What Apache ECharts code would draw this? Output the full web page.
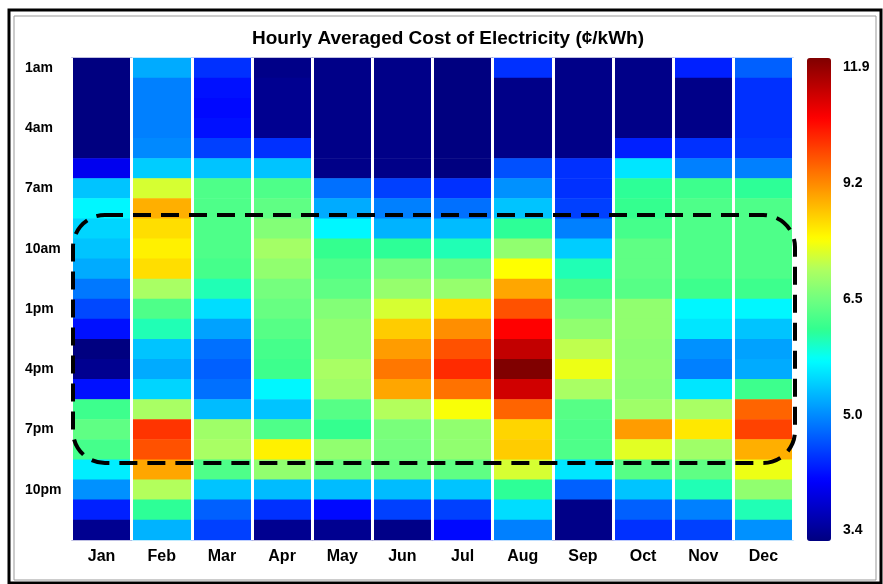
<!DOCTYPE html>
<html>
<head>
<meta charset="utf-8">
<title>Hourly Averaged Cost of Electricity</title>
<script src="https://cdn.jsdelivr.net/npm/echarts@6/dist/echarts.min.js"></script>
<style>
  html, body { margin: 0; padding: 0; background: #fff; }
  #chart { width: 883px; height: 584px; }
</style>
</head>
<body>
<div id="chart"></div>
<script>
// months along x, hours down y
const months = ['Jan', 'Feb', 'Mar', 'Apr', 'May', 'Jun', 'Jul', 'Aug', 'Sep', 'Oct', 'Nov', 'Dec'];
const hours = ['1am', '2am', '3am', '4am', '5am', '6am', '7am', '8am', '9am', '10am', '11am', '12pm',
  '1pm', '2pm', '3pm', '4pm', '5pm', '6pm', '7pm', '8pm', '9pm', '10pm', '11pm', '12am'];

// colour bar ticks (evenly spaced on the bar)
const barTicks = [3.4, 5.0, 6.5, 9.2, 11.9];

// cost in cents/kWh, one value per hour (1am .. 12am)
const jan = [3.4, 3.4, 3.4, 3.4, 3.4, 4.1, 5.4, 5.7, 5.5, 5.4, 5.25, 4.95, 4.65, 4.3, 3.4, 3.5, 4.3, 6.2, 6.4, 6.25, 5.65, 5.1, 4.4, 3.5];
const feb = [5.25, 5.0, 5.0, 5.0, 5.05, 5.45, 7.5, 8.7, 8.2, 8.0, 8.2, 7.1, 6.3, 6.0, 5.4, 5.25, 5.5, 7.1, 10.0, 9.7, 8.8, 7.2, 6.1, 5.3];
const mar = [4.5, 4.3, 4.25, 4.3, 4.6, 5.4, 6.3, 6.3, 6.3, 6.3, 6.25, 6.0, 5.55, 5.2, 4.9, 4.8, 4.9, 5.35, 7.0, 7.1, 6.3, 5.4, 4.8, 4.6];
const apr = [3.45, 3.5, 3.5, 3.5, 4.5, 5.4, 6.3, 6.4, 6.7, 7.05, 6.85, 6.55, 6.45, 6.35, 6.25, 6.2, 5.7, 5.4, 6.3, 8.0, 6.85, 5.35, 4.5, 3.5];
const may = [3.45, 3.45, 3.45, 3.45, 3.45, 3.45, 4.9, 5.25, 5.7, 6.15, 6.3, 6.4, 6.7, 6.85, 6.85, 7.1, 7.0, 6.35, 6.15, 6.85, 6.45, 5.35, 4.25, 3.5];
const jun = [3.45, 3.45, 3.45, 3.45, 3.45, 3.45, 4.6, 5.0, 5.3, 6.1, 6.55, 6.9, 7.5, 8.4, 8.9, 9.3, 8.8, 7.2, 6.6, 6.55, 6.45, 5.35, 4.6, 3.45];
const jul = [3.4, 3.4, 3.4, 3.4, 3.4, 3.4, 4.5, 4.9, 5.35, 6.0, 6.45, 6.9, 8.2, 9.05, 9.7, 10.1, 9.35, 7.8, 6.85, 6.85, 6.4, 5.4, 4.6, 4.25];
const aug = [4.5, 3.45, 3.45, 3.45, 3.45, 4.7, 5.1, 5.4, 6.1, 6.85, 7.85, 8.8, 9.7, 10.55, 11.2, 11.9, 11.05, 9.5, 8.3, 8.4, 7.5, 6.1, 5.55, 5.0];
const sep = [3.45, 3.45, 3.45, 3.45, 3.45, 4.5, 4.5, 4.6, 5.0, 5.45, 6.0, 6.25, 6.55, 6.85, 7.3, 7.7, 7.1, 6.35, 6.3, 6.3, 5.6, 4.8, 3.45, 3.45];
const oct = [3.45, 3.45, 3.45, 3.45, 4.4, 5.6, 6.1, 6.15, 6.25, 6.4, 6.4, 6.35, 6.85, 6.85, 6.8, 6.85, 6.8, 7.0, 8.9, 7.6, 6.35, 5.4, 4.8, 4.5];
const nov = [4.4, 3.45, 3.45, 3.45, 4.5, 5.0, 6.2, 6.3, 6.3, 6.3, 6.3, 6.2, 5.7, 5.6, 5.1, 5.0, 5.6, 7.1, 8.1, 7.0, 6.4, 6.0, 5.0, 4.6];
const dec = [4.8, 4.5, 4.5, 4.5, 4.55, 5.0, 6.1, 6.3, 6.3, 6.3, 6.3, 6.2, 5.7, 5.4, 5.2, 5.25, 6.2, 9.5, 9.85, 8.7, 7.7, 6.85, 6.0, 5.1];

const costs = [jan, feb, mar, apr, may, jun, jul, aug, sep, oct, nov, dec];

// jet-like colours, spread evenly over the bar (greens a bit warmer, as in the picture)
const jet = ['#000080', '#0000c0', '#0000ff', '#0040ff', '#0080ff', '#00c0ff', '#00ffff', '#30ff90',
  '#70ff80', '#b0ff60', '#ffff00', '#ffc000', '#ff8000', '#ff4000', '#ff0000', '#c00000', '#800000'];

// position on the bar (0..1) for a value, piecewise between the bar ticks
function barPos(v) {
  const n = barTicks.length - 1;
  for (let i = 0; i < n; i++) {
    if (v <= barTicks[i + 1] || i === n - 1) {
      const f = (v - barTicks[i]) / (barTicks[i + 1] - barTicks[i]);
      return Math.max(0, Math.min(1, (i + f) / n));
    }
  }
  return 0;
}

const cells = [];
costs.forEach((col, m) => {
  col.forEach((v, h) => {
    cells.push([m, h, v, barPos(v)]);
  });
});

const font = "'Liberation Sans', Arial, sans-serif";
const chart = echarts.init(document.getElementById('chart'));

chart.setOption({
  animation: false,
  backgroundColor: '#fff',
  title: {
    text: 'Hourly Averaged Cost of Electricity (¢/kWh)',
    left: 443,
    textAlign: 'center',
    top: 24,
    textStyle: { fontFamily: font, fontSize: 19, fontWeight: 'bold', color: '#000' }
  },
  grid: [
    { left: 71.5, top: 58, width: 722, height: 482 },
    { left: 807, top: 67.5, width: 24, height: 463 }
  ],
  xAxis: [
    {
      type: 'category',
      data: months,
      z: 5,
      axisLine: { show: false },
      axisTick: { show: false },
      axisLabel: { margin: 9, fontFamily: font, fontSize: 16, fontWeight: 'bold', color: '#000' },
      splitLine: { show: true, interval: 0, lineStyle: { color: '#fff', width: 3 } }
    },
    { type: 'value', gridIndex: 1, show: false }
  ],
  yAxis: [
    {
      type: 'category',
      data: hours,
      inverse: true,
      axisLine: { show: false },
      axisTick: { show: false },
      splitLine: { show: false },
      axisLabel: {
        interval: 2,
        align: 'left',
        margin: 46.5,
        fontFamily: font, fontSize: 14, fontWeight: 'bold', color: '#000'
      }
    },
    {
      type: 'value',
      gridIndex: 1,
      position: 'right',
      min: 0,
      max: barTicks.length - 1,
      interval: 1,
      axisLine: { show: false },
      axisTick: { show: false },
      splitLine: { show: false },
      axisLabel: {
        margin: 12,
        formatter: (v) => barTicks[v] !== undefined ? barTicks[v].toFixed(1) : '',
        fontFamily: font, fontSize: 14, fontWeight: 'bold', color: '#000'
      }
    }
  ],
  visualMap: {
    type: 'continuous',
    dimension: 3,
    min: 0,
    max: 1,
    calculable: false,
    left: 807,
    top: 58,
    padding: 0,
    itemWidth: 24,
    itemHeight: 483,
    text: null,
    inRange: { color: jet }
  },
  series: [{
    type: 'heatmap',
    data: cells,
    itemStyle: { borderWidth: 0 },
    emphasis: { disabled: true }
  }],
  graphic: [
    {
      type: 'rect',
      shape: { x: 73, y: 215, width: 722, height: 248, r: 32 },
      style: { fill: null, stroke: '#000', lineWidth: 4, lineDash: [18, 10] },
      z: 100
    },
    {
      type: 'rect',
      shape: { x: 9, y: 10, width: 872, height: 573 },
      style: { fill: null, stroke: '#000', lineWidth: 3 },
      z: 100
    },
    {
      type: 'rect',
      shape: { x: 14, y: 16, width: 862, height: 564 },
      style: { fill: null, stroke: '#999', lineWidth: 1 },
      z: 100
    }
  ]
});
</script>
</body>
</html>
